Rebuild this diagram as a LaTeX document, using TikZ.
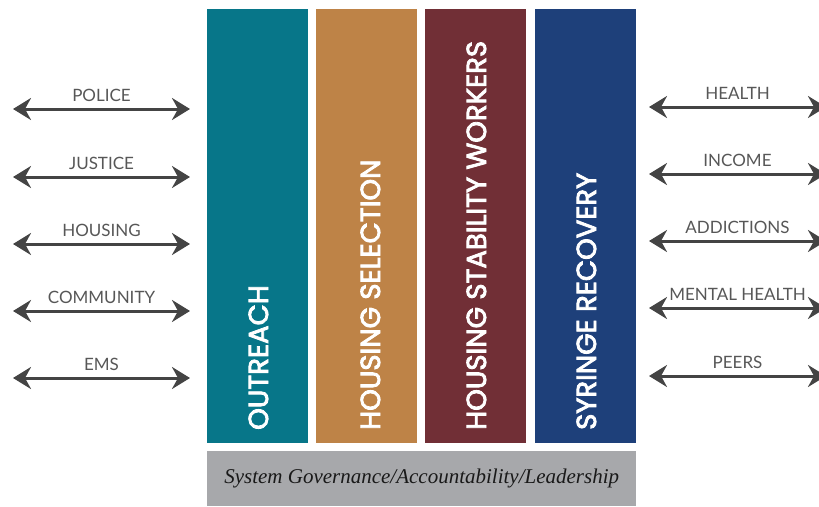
\documentclass[tikz,border=0pt]{standalone}
\usepackage{fontspec}
\setmainfont{Lato}
\newfontfamily\barfont{Poppins}[FakeBold=3]
\newfontfamily\govfont{Liberation Serif}
\usetikzlibrary{arrows.meta,calc}
\definecolor{cteal}{HTML}{077689}
\definecolor{corange}{HTML}{BE8347}
\definecolor{cmaroon}{HTML}{712F36}
\definecolor{cblue}{HTML}{1E407A}
\definecolor{cgray}{HTML}{A7A8AB}
\definecolor{carrow}{HTML}{444444}
\begin{document}
\begin{tikzpicture}[x=1pt,y=-1pt,
  bar/.style={draw=none,minimum width=101pt,minimum height=434pt,inner sep=0pt,anchor=north west},
  bartext/.style={text=white,font=\barfont\fontsize{27.5}{27.5}\selectfont,rotate=90,anchor=base west,inner sep=0pt},
  link/.style={draw=carrow,line width=3pt,{Stealth[length=18pt,width=22pt,inset=6pt]}-{Stealth[length=18pt,width=22pt,inset=6pt]}},
  lbl/.style={text=carrow!90,font=\fontsize{17}{17}\selectfont,anchor=base,inner sep=0pt}]
\useasboundingbox (0,0) rectangle (819,506);
\clip (0,0) rectangle (819,506);
% bars
\node[bar,fill=cteal] (b1) at (207,9) {};
\node[bar,fill=corange] (b2) at (316,9) {};
\node[bar,fill=cmaroon] (b3) at (425,9) {};
\node[bar,fill=cblue] (b4) at (535,9) {};
\node[bartext] (t1) at (268,430) {OUTREACH};
\node[bartext] (t2) at (380,430) {HOUSING SELECTION};
\node[bartext] (t3) at (486,430) {HOUSING STABILITY WORKERS};
\node[bartext] (t4) at (596,430) {SYRINGE RECOVERY};
% governance
\node[fill=cgray,minimum width=429pt,minimum height=55pt,inner sep=0pt,anchor=north west] (gov) at (207,451) {};
\node[font=\govfont\itshape\fontsize{21}{21}\selectfont,text=black!90] at (gov.center) {System Governance/Accountability/Leadership};
% left arrows
\foreach \n/\y/\t in {l1/109/POLICE,l2/177/JUSTICE,l3/244/HOUSING,l4/311/COMMUNITY,l5/378/EMS}{
  \coordinate (\n a) at (13,\y);
  \coordinate (\n b) at (190,\y);
  \draw[link] (\n a) -- (\n b);
  \node[lbl] (\n t) at ($(\n a)!0.5!(\n b)+(0,-8)$) {\t};
}
% right arrows
\foreach \n/\y/\t in {r1/107/HEALTH,r2/174/INCOME,r3/241/ADDICTIONS,r4/308/MENTAL HEALTH,r5/376/PEERS}{
  \coordinate (\n a) at (649,\y);
  \coordinate (\n b) at (826,\y);
  \draw[link] (\n a) -- (\n b);
  \node[lbl] (\n t) at ($(\n a)!0.5!(\n b)+(0,-8)$) {\t};
}
\end{tikzpicture}
\end{document}
